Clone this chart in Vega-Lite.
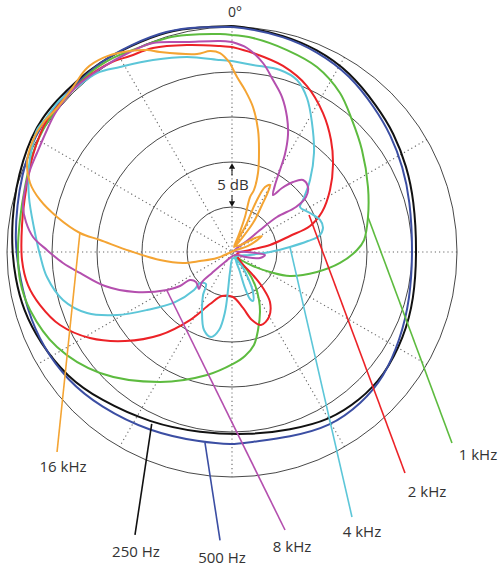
{
 "$schema": "https://vega.github.io/schema/vega-lite/v6.json",
 "width": 502, "height": 569, "padding": 0, "background": "white",
 "config": {"view": {"stroke": null}},
 "datasets": {
  "spokes": [
   {"x": 0, "y": 25, "x2": 0, "y2": -25},
   {"x": 12.5, "y": 21.651, "x2": -12.5, "y2": -21.651},
   {"x": 21.651, "y": 12.5, "x2": -21.651, "y2": -12.5},
   {"x": 25, "y": 0, "x2": -25, "y2": 0},
   {"x": 21.651, "y": -12.5, "x2": -21.651, "y2": 12.5},
   {"x": 12.5, "y": -21.651, "x2": -12.5, "y2": 21.651}
  ],
  "rings": [{"r": 5, "x": 0, "y": 0}, {"r": 10, "x": 0, "y": 0}, {"r": 15, "x": 0, "y": 0}, {"r": 20, "x": 0, "y": 0}, {"r": 25, "x": 0, "y": 0}],
  "curves": [
   {"s":"250 Hz","i":1,"x":0,"y":25.11},{"s":"250 Hz","i":2,"x":2.0,"y":24.89},{"s":"250 Hz","i":3,"x":5.67,"y":24.11},{"s":"250 Hz","i":4,"x":9.44,"y":22.56},{"s":"250 Hz","i":5,"x":13.11,"y":20.0},{"s":"250 Hz","i":6,"x":16.11,"y":16.22},{"s":"250 Hz","i":7,"x":18.0,"y":13.22},{"s":"250 Hz","i":8,"x":19.44,"y":9.44},{"s":"250 Hz","i":9,"x":20.22,"y":5.78},{"s":"250 Hz","i":10,"x":20.56,"y":0.22},{"s":"250 Hz","i":11,"x":20.22,"y":-5.33},{"s":"250 Hz","i":12,"x":19.11,"y":-9.44},{"s":"250 Hz","i":13,"x":16.89,"y":-13.78},{"s":"250 Hz","i":14,"x":14.22,"y":-16.44},{"s":"250 Hz","i":15,"x":10.89,"y":-18.67},{"s":"250 Hz","i":16,"x":6.44,"y":-19.78},{"s":"250 Hz","i":17,"x":2.0,"y":-20.33},{"s":"250 Hz","i":18,"x":-3.56,"y":-20.11},{"s":"250 Hz","i":19,"x":-9.11,"y":-19.0},{"s":"250 Hz","i":20,"x":-14.67,"y":-16.44},{"s":"250 Hz","i":21,"x":-18.33,"y":-13.89},{"s":"250 Hz","i":22,"x":-21.33,"y":-10.11},{"s":"250 Hz","i":23,"x":-23.22,"y":-6.44},{"s":"250 Hz","i":24,"x":-24.11,"y":-2.78},{"s":"250 Hz","i":25,"x":-24.44,"y":0.22},{"s":"250 Hz","i":26,"x":-24.44,"y":3.56},{"s":"250 Hz","i":27,"x":-24.0,"y":7.22},{"s":"250 Hz","i":28,"x":-23.22,"y":10.22},{"s":"250 Hz","i":29,"x":-22.33,"y":12.67},{"s":"250 Hz","i":30,"x":-21.11,"y":14.89},{"s":"250 Hz","i":31,"x":-19.44,"y":16.89},{"s":"250 Hz","i":32,"x":-17.44,"y":18.89},{"s":"250 Hz","i":33,"x":-14.67,"y":21.11},{"s":"250 Hz","i":34,"x":-11.33,"y":22.89},{"s":"250 Hz","i":35,"x":-7.22,"y":24.56},{"s":"250 Hz","i":36,"x":-3.56,"y":25.0},{"s":"250 Hz","i":37,"x":0,"y":25.11},
   {"s":"500 Hz","i":1,"x":0,"y":25.0},{"s":"500 Hz","i":2,"x":2.0,"y":24.78},{"s":"500 Hz","i":3,"x":5.67,"y":24.0},{"s":"500 Hz","i":4,"x":9.44,"y":22.33},{"s":"500 Hz","i":5,"x":13.11,"y":19.67},{"s":"500 Hz","i":6,"x":15.89,"y":16.0},{"s":"500 Hz","i":7,"x":17.67,"y":13.0},{"s":"500 Hz","i":8,"x":19.0,"y":9.44},{"s":"500 Hz","i":9,"x":19.78,"y":5.78},{"s":"500 Hz","i":10,"x":20.11,"y":0.22},{"s":"500 Hz","i":11,"x":19.78,"y":-5.33},{"s":"500 Hz","i":12,"x":18.67,"y":-9.78},{"s":"500 Hz","i":13,"x":16.89,"y":-13.89},{"s":"500 Hz","i":14,"x":14.44,"y":-16.78},{"s":"500 Hz","i":15,"x":10.89,"y":-19.44},{"s":"500 Hz","i":16,"x":6.44,"y":-20.56},{"s":"500 Hz","i":17,"x":2.0,"y":-21.11},{"s":"500 Hz","i":18,"x":0.11,"y":-21.44},{"s":"500 Hz","i":19,"x":-3.56,"y":-21.11},{"s":"500 Hz","i":20,"x":-9.11,"y":-20.0},{"s":"500 Hz","i":21,"x":-14.67,"y":-17.22},{"s":"500 Hz","i":22,"x":-18.33,"y":-14.22},{"s":"500 Hz","i":23,"x":-21.0,"y":-10.56},{"s":"500 Hz","i":24,"x":-22.78,"y":-6.44},{"s":"500 Hz","i":25,"x":-23.78,"y":-1.67},{"s":"500 Hz","i":26,"x":-24.11,"y":1.33},{"s":"500 Hz","i":27,"x":-23.89,"y":5.22},{"s":"500 Hz","i":28,"x":-23.33,"y":8.56},{"s":"500 Hz","i":29,"x":-22.44,"y":11.56},{"s":"500 Hz","i":30,"x":-21.11,"y":14.22},{"s":"500 Hz","i":31,"x":-19.33,"y":16.67},{"s":"500 Hz","i":32,"x":-17.11,"y":18.89},{"s":"500 Hz","i":33,"x":-14.67,"y":21.11},{"s":"500 Hz","i":34,"x":-11.33,"y":23.0},{"s":"500 Hz","i":35,"x":-7.22,"y":24.67},{"s":"500 Hz","i":36,"x":-3.56,"y":25.0},{"s":"500 Hz","i":37,"x":0,"y":25.0},
   {"s":"1 kHz","i":1,"x":0,"y":24.11},{"s":"1 kHz","i":2,"x":2.33,"y":23.78},{"s":"1 kHz","i":3,"x":6.11,"y":22.44},{"s":"1 kHz","i":4,"x":9.44,"y":20.56},{"s":"1 kHz","i":5,"x":12.0,"y":17.67},{"s":"1 kHz","i":6,"x":13.33,"y":14.67},{"s":"1 kHz","i":7,"x":14.44,"y":11.33},{"s":"1 kHz","i":8,"x":15.11,"y":7.22},{"s":"1 kHz","i":9,"x":15.11,"y":3.89},{"s":"1 kHz","i":10,"x":14.67,"y":1.33},{"s":"1 kHz","i":11,"x":13.89,"y":0.22},{"s":"1 kHz","i":12,"x":12.0,"y":-1.22},{"s":"1 kHz","i":13,"x":9.44,"y":-2.22},{"s":"1 kHz","i":14,"x":6.44,"y":-2.67},{"s":"1 kHz","i":15,"x":4.22,"y":-2.22},{"s":"1 kHz","i":16,"x":2.33,"y":-1.56},{"s":"1 kHz","i":17,"x":1.0,"y":-0.89},{"s":"1 kHz","i":18,"x":0.33,"y":-0.44},{"s":"1 kHz","i":19,"x":0.89,"y":-1.11},{"s":"1 kHz","i":20,"x":1.67,"y":-2.0},{"s":"1 kHz","i":21,"x":2.56,"y":-3.67},{"s":"1 kHz","i":22,"x":3.0,"y":-5.33},{"s":"1 kHz","i":23,"x":3.11,"y":-6.67},{"s":"1 kHz","i":24,"x":2.89,"y":-8.67},{"s":"1 kHz","i":25,"x":2.44,"y":-10.33},{"s":"1 kHz","i":26,"x":1.44,"y":-11.56},{"s":"1 kHz","i":27,"x":0.11,"y":-12.44},{"s":"1 kHz","i":28,"x":-2.78,"y":-13.67},{"s":"1 kHz","i":29,"x":-8.0,"y":-14.44},{"s":"1 kHz","i":30,"x":-14.67,"y":-13.44},{"s":"1 kHz","i":31,"x":-19.44,"y":-10.56},{"s":"1 kHz","i":32,"x":-22.44,"y":-6.44},{"s":"1 kHz","i":33,"x":-23.56,"y":-3.11},{"s":"1 kHz","i":34,"x":-23.78,"y":0.22},{"s":"1 kHz","i":35,"x":-23.56,"y":3.56},{"s":"1 kHz","i":36,"x":-23.0,"y":7.22},{"s":"1 kHz","i":37,"x":-22.11,"y":11.0},{"s":"1 kHz","i":38,"x":-20.56,"y":14.33},{"s":"1 kHz","i":39,"x":-18.33,"y":17.22},{"s":"1 kHz","i":40,"x":-15.78,"y":19.89},{"s":"1 kHz","i":41,"x":-13.22,"y":21.56},{"s":"1 kHz","i":42,"x":-11.33,"y":22.33},{"s":"1 kHz","i":43,"x":-7.22,"y":23.78},{"s":"1 kHz","i":44,"x":-5.0,"y":24.11},{"s":"1 kHz","i":45,"x":-1.33,"y":24.22},{"s":"1 kHz","i":46,"x":0,"y":24.11},
   {"s":"2 kHz","i":1,"x":0,"y":22.78},{"s":"2 kHz","i":2,"x":2.33,"y":22.11},{"s":"2 kHz","i":3,"x":5.67,"y":20.67},{"s":"2 kHz","i":4,"x":8.33,"y":18.44},{"s":"2 kHz","i":5,"x":10.11,"y":15.44},{"s":"2 kHz","i":6,"x":11.0,"y":12.44},{"s":"2 kHz","i":7,"x":11.22,"y":9.67},{"s":"2 kHz","i":8,"x":10.89,"y":6.89},{"s":"2 kHz","i":9,"x":10.0,"y":4.44},{"s":"2 kHz","i":10,"x":8.67,"y":2.89},{"s":"2 kHz","i":11,"x":6.44,"y":1.78},{"s":"2 kHz","i":12,"x":4.22,"y":0.78},{"s":"2 kHz","i":13,"x":2.0,"y":0.22},{"s":"2 kHz","i":14,"x":0.56,"y":-0.22},{"s":"2 kHz","i":15,"x":1.0,"y":-1.11},{"s":"2 kHz","i":16,"x":2.33,"y":-2.56},{"s":"2 kHz","i":17,"x":3.44,"y":-4.0},{"s":"2 kHz","i":18,"x":4.22,"y":-5.56},{"s":"2 kHz","i":19,"x":4.11,"y":-7.22},{"s":"2 kHz","i":20,"x":3.22,"y":-8.11},{"s":"2 kHz","i":21,"x":2.22,"y":-7.56},{"s":"2 kHz","i":22,"x":1.22,"y":-6.22},{"s":"2 kHz","i":23,"x":0.11,"y":-5.0},{"s":"2 kHz","i":24,"x":-1.11,"y":-4.89},{"s":"2 kHz","i":25,"x":-2.44,"y":-5.78},{"s":"2 kHz","i":26,"x":-4.67,"y":-7.56},{"s":"2 kHz","i":27,"x":-8.0,"y":-9.22},{"s":"2 kHz","i":28,"x":-11.89,"y":-9.89},{"s":"2 kHz","i":29,"x":-15.78,"y":-9.56},{"s":"2 kHz","i":30,"x":-19.11,"y":-8.11},{"s":"2 kHz","i":31,"x":-21.33,"y":-5.89},{"s":"2 kHz","i":32,"x":-22.67,"y":-3.67},{"s":"2 kHz","i":33,"x":-23.33,"y":-0.89},{"s":"2 kHz","i":34,"x":-23.33,"y":3.0},{"s":"2 kHz","i":35,"x":-22.89,"y":6.89},{"s":"2 kHz","i":36,"x":-22.11,"y":10.78},{"s":"2 kHz","i":37,"x":-20.56,"y":14.67},{"s":"2 kHz","i":38,"x":-18.44,"y":17.22},{"s":"2 kHz","i":39,"x":-16.33,"y":19.22},{"s":"2 kHz","i":40,"x":-13.56,"y":21.0},{"s":"2 kHz","i":41,"x":-11.33,"y":21.78},{"s":"2 kHz","i":42,"x":-8.78,"y":22.67},{"s":"2 kHz","i":43,"x":-5.0,"y":23.0},{"s":"2 kHz","i":44,"x":-1.33,"y":22.89},{"s":"2 kHz","i":45,"x":0,"y":22.78},
   {"s":"4 kHz","i":1,"x":0,"y":21.22},{"s":"4 kHz","i":2,"x":2.33,"y":20.78},{"s":"4 kHz","i":3,"x":5.33,"y":20.22},{"s":"4 kHz","i":4,"x":7.22,"y":19.11},{"s":"4 kHz","i":5,"x":8.33,"y":17.11},{"s":"4 kHz","i":6,"x":8.89,"y":14.33},{"s":"4 kHz","i":7,"x":9.11,"y":11.0},{"s":"4 kHz","i":8,"x":8.67,"y":8.0},{"s":"4 kHz","i":9,"x":7.89,"y":5.78},{"s":"4 kHz","i":10,"x":7.56,"y":5.0},{"s":"4 kHz","i":11,"x":8.67,"y":4.33},{"s":"4 kHz","i":12,"x":9.78,"y":3.56},{"s":"4 kHz","i":13,"x":10.11,"y":2.67},{"s":"4 kHz","i":14,"x":9.67,"y":1.78},{"s":"4 kHz","i":15,"x":8.44,"y":1.22},{"s":"4 kHz","i":16,"x":6.44,"y":0.56},{"s":"4 kHz","i":17,"x":4.22,"y":0},{"s":"4 kHz","i":18,"x":2.0,"y":-0.33},{"s":"4 kHz","i":19,"x":0.44,"y":-0.56},{"s":"4 kHz","i":20,"x":0.89,"y":-2.22},{"s":"4 kHz","i":21,"x":1.44,"y":-4.0},{"s":"4 kHz","i":22,"x":2.0,"y":-5.22},{"s":"4 kHz","i":23,"x":2.33,"y":-5.44},{"s":"4 kHz","i":24,"x":2.33,"y":-4.44},{"s":"4 kHz","i":25,"x":1.78,"y":-2.89},{"s":"4 kHz","i":26,"x":1.0,"y":-1.44},{"s":"4 kHz","i":27,"x":0.11,"y":-0.67},{"s":"4 kHz","i":28,"x":-0.22,"y":-2.22},{"s":"4 kHz","i":29,"x":-0.44,"y":-4.22},{"s":"4 kHz","i":30,"x":-0.78,"y":-6.67},{"s":"4 kHz","i":31,"x":-1.44,"y":-8.67},{"s":"4 kHz","i":32,"x":-2.33,"y":-9.44},{"s":"4 kHz","i":33,"x":-3.11,"y":-8.67},{"s":"4 kHz","i":34,"x":-3.33,"y":-6.44},{"s":"4 kHz","i":35,"x":-3.22,"y":-4.78},{"s":"4 kHz","i":36,"x":-2.89,"y":-3.56},{"s":"4 kHz","i":37,"x":-3.56,"y":-3.44},{"s":"4 kHz","i":38,"x":-4.22,"y":-4.22},{"s":"4 kHz","i":39,"x":-6.33,"y":-5.56},{"s":"4 kHz","i":40,"x":-9.44,"y":-6.44},{"s":"4 kHz","i":41,"x":-12.78,"y":-7.0},{"s":"4 kHz","i":42,"x":-16.11,"y":-6.78},{"s":"4 kHz","i":43,"x":-18.78,"y":-5.33},{"s":"4 kHz","i":44,"x":-20.56,"y":-2.78},{"s":"4 kHz","i":45,"x":-21.33,"y":-0.33},{"s":"4 kHz","i":46,"x":-22.0,"y":2.67},{"s":"4 kHz","i":47,"x":-22.56,"y":6.11},{"s":"4 kHz","i":48,"x":-22.56,"y":9.44},{"s":"4 kHz","i":49,"x":-22.22,"y":11.67},{"s":"4 kHz","i":50,"x":-21.67,"y":13.56},{"s":"4 kHz","i":51,"x":-20.56,"y":15.0},{"s":"4 kHz","i":52,"x":-19.11,"y":16.89},{"s":"4 kHz","i":53,"x":-17.22,"y":18.33},{"s":"4 kHz","i":54,"x":-15.0,"y":19.89},{"s":"4 kHz","i":55,"x":-12.44,"y":20.56},{"s":"4 kHz","i":56,"x":-8.78,"y":21.33},{"s":"4 kHz","i":57,"x":-5.0,"y":21.67},{"s":"4 kHz","i":58,"x":-1.33,"y":21.33},{"s":"4 kHz","i":59,"x":0,"y":21.22},
   {"s":"8 kHz","i":1,"x":0,"y":23.33},{"s":"8 kHz","i":2,"x":1.67,"y":22.67},{"s":"8 kHz","i":3,"x":3.44,"y":21.0},{"s":"8 kHz","i":4,"x":4.56,"y":19.11},{"s":"8 kHz","i":5,"x":5.56,"y":17.22},{"s":"8 kHz","i":6,"x":6.11,"y":15.0},{"s":"8 kHz","i":7,"x":6.22,"y":13.0},{"s":"8 kHz","i":8,"x":5.89,"y":10.89},{"s":"8 kHz","i":9,"x":5.33,"y":9.11},{"s":"8 kHz","i":10,"x":4.78,"y":7.44},{"s":"8 kHz","i":11,"x":4.56,"y":6.33},{"s":"8 kHz","i":12,"x":5.56,"y":7.11},{"s":"8 kHz","i":13,"x":6.78,"y":7.78},{"s":"8 kHz","i":14,"x":7.89,"y":8.0},{"s":"8 kHz","i":15,"x":8.44,"y":7.22},{"s":"8 kHz","i":16,"x":8.22,"y":6.11},{"s":"8 kHz","i":17,"x":7.11,"y":5.0},{"s":"8 kHz","i":18,"x":5.0,"y":3.89},{"s":"8 kHz","i":19,"x":3.11,"y":2.44},{"s":"8 kHz","i":20,"x":1.78,"y":1.33},{"s":"8 kHz","i":21,"x":0.56,"y":0.44},{"s":"8 kHz","i":22,"x":0.22,"y":0.11},{"s":"8 kHz","i":23,"x":1.67,"y":0},{"s":"8 kHz","i":24,"x":3.67,"y":-0.33},{"s":"8 kHz","i":25,"x":3.11,"y":-0.67},{"s":"8 kHz","i":26,"x":1.56,"y":-0.56},{"s":"8 kHz","i":27,"x":0.33,"y":-0.33},{"s":"8 kHz","i":28,"x":-0.78,"y":-1.11},{"s":"8 kHz","i":29,"x":-2.22,"y":-2.33},{"s":"8 kHz","i":30,"x":-3.33,"y":-3.33},{"s":"8 kHz","i":31,"x":-3.67,"y":-4.11},{"s":"8 kHz","i":32,"x":-4.0,"y":-3.33},{"s":"8 kHz","i":33,"x":-4.67,"y":-3.11},{"s":"8 kHz","i":34,"x":-5.78,"y":-3.78},{"s":"8 kHz","i":35,"x":-7.22,"y":-4.22},{"s":"8 kHz","i":36,"x":-10.78,"y":-4.44},{"s":"8 kHz","i":37,"x":-14.11,"y":-3.78},{"s":"8 kHz","i":38,"x":-16.89,"y":-2.33},{"s":"8 kHz","i":39,"x":-18.78,"y":-1.22},{"s":"8 kHz","i":40,"x":-20.56,"y":0.22},{"s":"8 kHz","i":41,"x":-22.11,"y":1.67},{"s":"8 kHz","i":42,"x":-22.89,"y":3.33},{"s":"8 kHz","i":43,"x":-23.22,"y":5.0},{"s":"8 kHz","i":44,"x":-23.0,"y":6.89},{"s":"8 kHz","i":45,"x":-22.44,"y":9.11},{"s":"8 kHz","i":46,"x":-21.67,"y":11.0},{"s":"8 kHz","i":47,"x":-20.56,"y":13.56},{"s":"8 kHz","i":48,"x":-19.56,"y":15.56},{"s":"8 kHz","i":49,"x":-17.33,"y":18.33},{"s":"8 kHz","i":50,"x":-14.67,"y":20.33},{"s":"8 kHz","i":51,"x":-11.33,"y":22.22},{"s":"8 kHz","i":52,"x":-8.78,"y":23.22},{"s":"8 kHz","i":53,"x":-5.0,"y":23.33},{"s":"8 kHz","i":54,"x":-1.33,"y":23.44},{"s":"8 kHz","i":55,"x":0,"y":23.33},
   {"s":"16 kHz","i":1,"x":-0.22,"y":21.0},{"s":"16 kHz","i":2,"x":0.56,"y":19.44},{"s":"16 kHz","i":3,"x":1.44,"y":18.0},{"s":"16 kHz","i":4,"x":2.33,"y":16.11},{"s":"16 kHz","i":5,"x":2.89,"y":13.56},{"s":"16 kHz","i":6,"x":3.0,"y":11.33},{"s":"16 kHz","i":7,"x":2.89,"y":8.78},{"s":"16 kHz","i":8,"x":2.44,"y":6.89},{"s":"16 kHz","i":9,"x":2.0,"y":6.11},{"s":"16 kHz","i":10,"x":1.44,"y":3.89},{"s":"16 kHz","i":11,"x":0.67,"y":1.67},{"s":"16 kHz","i":12,"x":0.22,"y":0.56},{"s":"16 kHz","i":13,"x":2.33,"y":3.22},{"s":"16 kHz","i":14,"x":3.33,"y":5.22},{"s":"16 kHz","i":15,"x":4.0,"y":6.67},{"s":"16 kHz","i":16,"x":4.22,"y":7.44},{"s":"16 kHz","i":17,"x":3.67,"y":7.22},{"s":"16 kHz","i":18,"x":2.67,"y":5.56},{"s":"16 kHz","i":19,"x":1.56,"y":3.0},{"s":"16 kHz","i":20,"x":0.44,"y":0.67},{"s":"16 kHz","i":21,"x":2.56,"y":1.56},{"s":"16 kHz","i":22,"x":3.33,"y":1.78},{"s":"16 kHz","i":23,"x":1.78,"y":0.67},{"s":"16 kHz","i":24,"x":0.44,"y":0.22},{"s":"16 kHz","i":25,"x":-1.67,"y":-0.67},{"s":"16 kHz","i":26,"x":-3.56,"y":-1.0},{"s":"16 kHz","i":27,"x":-5.44,"y":-1.22},{"s":"16 kHz","i":28,"x":-8.0,"y":-0.89},{"s":"16 kHz","i":29,"x":-11.33,"y":0.11},{"s":"16 kHz","i":30,"x":-14.67,"y":1.33},{"s":"16 kHz","i":31,"x":-16.89,"y":2.11},{"s":"16 kHz","i":32,"x":-19.44,"y":3.89},{"s":"16 kHz","i":33,"x":-21.33,"y":5.78},{"s":"16 kHz","i":34,"x":-22.44,"y":7.67},{"s":"16 kHz","i":35,"x":-22.78,"y":9.89},{"s":"16 kHz","i":36,"x":-22.11,"y":12.44},{"s":"16 kHz","i":37,"x":-21.0,"y":14.33},{"s":"16 kHz","i":38,"x":-19.44,"y":16.0},{"s":"16 kHz","i":39,"x":-17.67,"y":18.33},{"s":"16 kHz","i":40,"x":-16.11,"y":20.44},{"s":"16 kHz","i":41,"x":-14.33,"y":21.56},{"s":"16 kHz","i":42,"x":-12.11,"y":22.22},{"s":"16 kHz","i":43,"x":-9.44,"y":22.44},{"s":"16 kHz","i":44,"x":-8.0,"y":22.22},{"s":"16 kHz","i":45,"x":-3.89,"y":22.0},{"s":"16 kHz","i":46,"x":-2.44,"y":22.33},{"s":"16 kHz","i":47,"x":-1.33,"y":22.11},{"s":"16 kHz","i":48,"x":-0.22,"y":21.0}
  ],
  "leaders": [
   {"s":"16 kHz","x":-16.89,"y":2.22,"x2":-19.44,"y2":-22.22},
   {"s":"250 Hz","x":-8.92,"y":-19.1,"x2":-10.78,"y2":-31.44},
   {"s":"500 Hz","x":-3.0,"y":-21.2,"x2":-1.33,"y2":-32.03},
   {"s":"8 kHz","x":-7.26,"y":-4.22,"x2":5.89,"y2":-30.89},
   {"s":"4 kHz","x":6.44,"y":0.56,"x2":13.33,"y2":-29.44},
   {"s":"2 kHz","x":8.56,"y":4.11,"x2":19.22,"y2":-24.56},
   {"s":"1 kHz","x":15.11,"y":3.89,"x2":24.44,"y2":-21.22}
  ],
  "labels": [
   {"t":"16 kHz","x":-18.78,"y":-23.89},
   {"t":"250 Hz","x":-10.67,"y":-33.33},
   {"t":"500 Hz","x":-1.11,"y":-34.0},
   {"t":"8 kHz","x":6.67,"y":-32.78},
   {"t":"4 kHz","x":14.44,"y":-31.11},
   {"t":"2 kHz","x":21.67,"y":-26.67},
   {"t":"1 kHz","x":27.33,"y":-22.56},
   {"t":"5 dB","x":0.11,"y":7.44}
  ],
  "top": [{"t":"0°","x":0.33,"y":26.56}],
  "arrows": [{"d":"up","x":0,"y":9.56},{"d":"down","x":0,"y":5.33}],
  "shafts": [{"x":0,"y":9.4,"y2":8.5},{"x":0,"y":6.3,"y2":5.5}]
 },
 "layer": [
  {"data":{"name":"spokes"},
   "mark":{"type":"rule","strokeDash":[1.2,3],"color":"#666666","strokeWidth":1.1},
   "encoding":{
    "x":{"field":"x","type":"quantitative","scale":{"domain":[-25.778,30],"nice":false,"zero":false},"axis":null},
    "y":{"field":"y","type":"quantitative","scale":{"domain":[-35.222,28],"nice":false,"zero":false},"axis":null},
    "x2":{"field":"x2"},"y2":{"field":"y2"}}},
  {"data":{"name":"rings"},
   "mark":{"type":"point","shape":"circle","filled":false,"color":"#333333","strokeWidth":0.9,"opacity":1},
   "encoding":{
    "x":{"field":"x","type":"quantitative"},
    "y":{"field":"y","type":"quantitative"},
    "size":{"field":"r","type":"quantitative","legend":null,"scale":{"type":"pow","exponent":2,"domain":[0,25],"range":[0,202500],"zero":true}}}},
  {"data":{"name":"curves"},
   "transform":[{"filter":"datum.s === '250 Hz' || datum.s === '500 Hz'"}],
   "mark":{"type":"line","strokeWidth":2,"interpolate":"basis"},
   "encoding":{
    "x":{"field":"x","type":"quantitative"},
    "y":{"field":"y","type":"quantitative"},
    "order":{"field":"i","type":"quantitative"},
    "color":{"field":"s","type":"nominal","legend":null,
      "scale":{"domain":["250 Hz","500 Hz","1 kHz","2 kHz","4 kHz","8 kHz","16 kHz"],
               "range":["#111111","#3b4ea3","#5dbb3f","#ec2227","#5cc6d8","#b44fae","#f4a433"]}}}},
  {"data":{"name":"curves"},
   "transform":[{"filter":"datum.s !== '250 Hz' && datum.s !== '500 Hz'"}],
   "mark":{"type":"line","strokeWidth":2,"interpolate":"catmull-rom"},
   "encoding":{
    "x":{"field":"x","type":"quantitative"},
    "y":{"field":"y","type":"quantitative"},
    "order":{"field":"i","type":"quantitative"},
    "color":{"field":"s","type":"nominal","legend":null}}},
  {"data":{"name":"leaders"},
   "mark":{"type":"rule","strokeWidth":1.6},
   "encoding":{
    "x":{"field":"x","type":"quantitative"},
    "y":{"field":"y","type":"quantitative"},
    "x2":{"field":"x2"},"y2":{"field":"y2"},
    "color":{"field":"s","type":"nominal","legend":null}}},
  {"data":{"name":"shafts"},
   "mark":{"type":"rule","color":"#111111","strokeWidth":1},
   "encoding":{"x":{"field":"x","type":"quantitative"},"y":{"field":"y","type":"quantitative"},"y2":{"field":"y2"}}},
  {"data":{"name":"arrows"},
   "mark":{"type":"point","filled":true,"color":"#111111","size":38,"opacity":1},
   "encoding":{
    "x":{"field":"x","type":"quantitative"},
    "y":{"field":"y","type":"quantitative"},
    "shape":{"field":"d","type":"nominal","legend":null,"scale":{"domain":["up","down"],"range":["triangle-up","triangle-down"]}}}},
  {"data":{"name":"labels"},
   "mark":{"type":"text","font":"Open Sans","fontSize":15,"color":"#333333"},
   "encoding":{"x":{"field":"x","type":"quantitative"},"y":{"field":"y","type":"quantitative"},"text":{"field":"t"}}},
  {"data":{"name":"top"},
   "mark":{"type":"text","font":"Open Sans","fontSize":14,"color":"#333333"},
   "encoding":{"x":{"field":"x","type":"quantitative"},"y":{"field":"y","type":"quantitative"},"text":{"field":"t"}}}
 ]
}
